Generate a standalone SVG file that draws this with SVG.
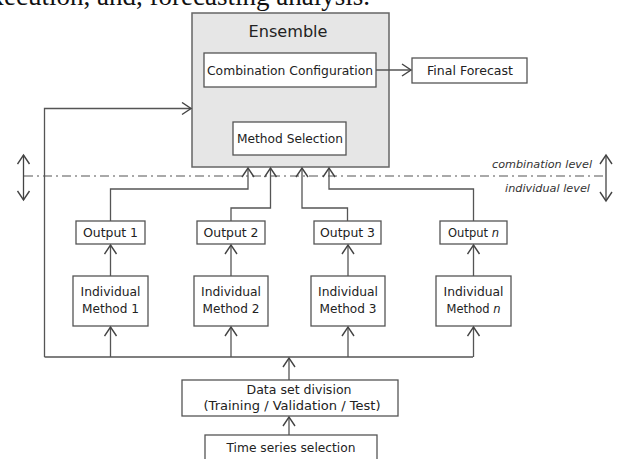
<svg xmlns="http://www.w3.org/2000/svg" width="618" height="459" viewBox="0 0 618 459">
<defs>
<marker id="ah" viewBox="-10 -7 12 14" markerWidth="12" markerHeight="14" refX="0" refY="0" orient="auto-start-reverse" markerUnits="userSpaceOnUse">
<path d="M-9,-6 L0,0 L-9,6" fill="none" stroke="#444" stroke-width="1.4"/>
</marker>
</defs>
<style>
.bx{fill:#fff;stroke:#555;stroke-width:1.3}
.t{font-family:"DejaVu Sans",Verdana,sans-serif;font-size:11.5px;fill:#222;text-anchor:middle}
.lv{font-family:"DejaVu Sans",Verdana,sans-serif;font-size:11px;font-style:italic;fill:#333;text-anchor:end}
.c{fill:none;stroke:#555;stroke-width:1.3}
.ca{fill:none;stroke:#555;stroke-width:1.3;marker-end:url(#ah)}
</style>
<rect width="618" height="459" fill="#fff"/>
<text x="370" y="5" font-family="'Liberation Serif',serif" font-size="27" text-anchor="end" fill="#111">execution, and, forecasting analysis.</text>

<g id="ensemble">
<rect x="192" y="13" width="197" height="154" fill="#e6e6e6" stroke="#666" stroke-width="1.5"/>
<text x="288" y="37" class="t" style="font-size:16px" textLength="79" lengthAdjust="spacingAndGlyphs">Ensemble</text>
</g>
<g id="combination">
<rect class="bx" x="204" y="53" width="172" height="34"/>
<text x="290" y="75" class="t" textLength="166" lengthAdjust="spacingAndGlyphs">Combination Configuration</text>
</g>
<g id="method-selection">
<rect class="bx" x="233" y="122" width="113" height="33"/>
<text x="290" y="143" class="t" textLength="106" lengthAdjust="spacingAndGlyphs">Method Selection</text>
</g>
<g id="final-forecast">
<rect class="bx" x="412" y="58" width="115" height="25"/>
<text x="470" y="75" class="t" textLength="86" lengthAdjust="spacingAndGlyphs">Final Forecast</text>
</g>

<g id="output1"><rect class="bx" x="76" y="221" width="69" height="23"/><text x="110.5" y="237" class="t" textLength="55" lengthAdjust="spacingAndGlyphs">Output 1</text></g>
<g id="output2"><rect class="bx" x="197" y="221" width="68" height="23"/><text x="231" y="237" class="t" textLength="55" lengthAdjust="spacingAndGlyphs">Output 2</text></g>
<g id="output3"><rect class="bx" x="314" y="221" width="67" height="23"/><text x="347.5" y="237" class="t" textLength="55" lengthAdjust="spacingAndGlyphs">Output 3</text></g>
<g id="outputn"><rect class="bx" x="440" y="221" width="67" height="23"/><text x="473.5" y="237" class="t">Output <tspan font-style="italic">n</tspan></text></g>

<g id="method1"><rect class="bx" x="73" y="276" width="75" height="50"/><text x="110.5" y="296" class="t" textLength="60" lengthAdjust="spacingAndGlyphs">Individual</text><text x="110.5" y="313" class="t" textLength="57" lengthAdjust="spacingAndGlyphs">Method 1</text></g>
<g id="method2"><rect class="bx" x="194" y="276" width="74" height="50"/><text x="231" y="296" class="t" textLength="60" lengthAdjust="spacingAndGlyphs">Individual</text><text x="231" y="313" class="t" textLength="57" lengthAdjust="spacingAndGlyphs">Method 2</text></g>
<g id="method3"><rect class="bx" x="311" y="276" width="74" height="50"/><text x="348" y="296" class="t" textLength="60" lengthAdjust="spacingAndGlyphs">Individual</text><text x="348" y="313" class="t" textLength="57" lengthAdjust="spacingAndGlyphs">Method 3</text></g>
<g id="methodn"><rect class="bx" x="436" y="276" width="75" height="50"/><text x="473.5" y="296" class="t" textLength="60" lengthAdjust="spacingAndGlyphs">Individual</text><text x="473.5" y="313" class="t">Method <tspan font-style="italic">n</tspan></text></g>

<g id="dataset">
<rect class="bx" x="182" y="380" width="216" height="36"/>
<text x="299" y="394" class="t" textLength="105" lengthAdjust="spacingAndGlyphs">Data set division</text>
<text x="292" y="410" class="t" textLength="177" lengthAdjust="spacingAndGlyphs">(Training / Validation / Test)</text>
</g>
<g id="timeseries">
<rect class="bx" x="205" y="435" width="172" height="40"/>
<text x="291" y="452" class="t" textLength="129" lengthAdjust="spacingAndGlyphs">Time series selection</text>
</g>

<g id="levels">
<line x1="24" y1="176" x2="606" y2="176" stroke="#555" stroke-width="1.2" stroke-dasharray="9 4 2 4"/>
<text x="592" y="168" class="lv" textLength="100" lengthAdjust="spacingAndGlyphs">combination level</text>
<text x="590" y="192" class="lv" textLength="85" lengthAdjust="spacingAndGlyphs">individual level</text>
<line x1="23.5" y1="155" x2="23.5" y2="200" stroke="#444" stroke-width="1.3" marker-start="url(#ah)" marker-end="url(#ah)"/>
<line x1="606" y1="155" x2="606" y2="201" stroke="#444" stroke-width="1.3" marker-start="url(#ah)" marker-end="url(#ah)"/>
</g>

<g id="connectors">
<path class="ca" d="M376,70 H411"/>
<path class="ca" d="M44.5,357 V108.5 H191"/>
<path class="c" d="M44.5,357 H473"/>
<path class="ca" d="M110.5,357 V327"/>
<path class="ca" d="M231,357 V327"/>
<path class="ca" d="M348,357 V327"/>
<path class="ca" d="M473.5,357 V327"/>
<path class="ca" d="M289,380 V358"/>
<path class="ca" d="M289,435 V417"/>
<path class="ca" d="M110.5,276 V245"/>
<path class="ca" d="M231,276 V245"/>
<path class="ca" d="M348,276 V245"/>
<path class="ca" d="M473.5,276 V245"/>
<path class="ca" d="M110.5,221 V189 H248 V168"/>
<path class="ca" d="M231,221 V208 H270.5 V168"/>
<path class="ca" d="M347.5,221 V208 H302 V168"/>
<path class="ca" d="M473.5,221 V189 H329 V168"/>
</g>
</svg>
